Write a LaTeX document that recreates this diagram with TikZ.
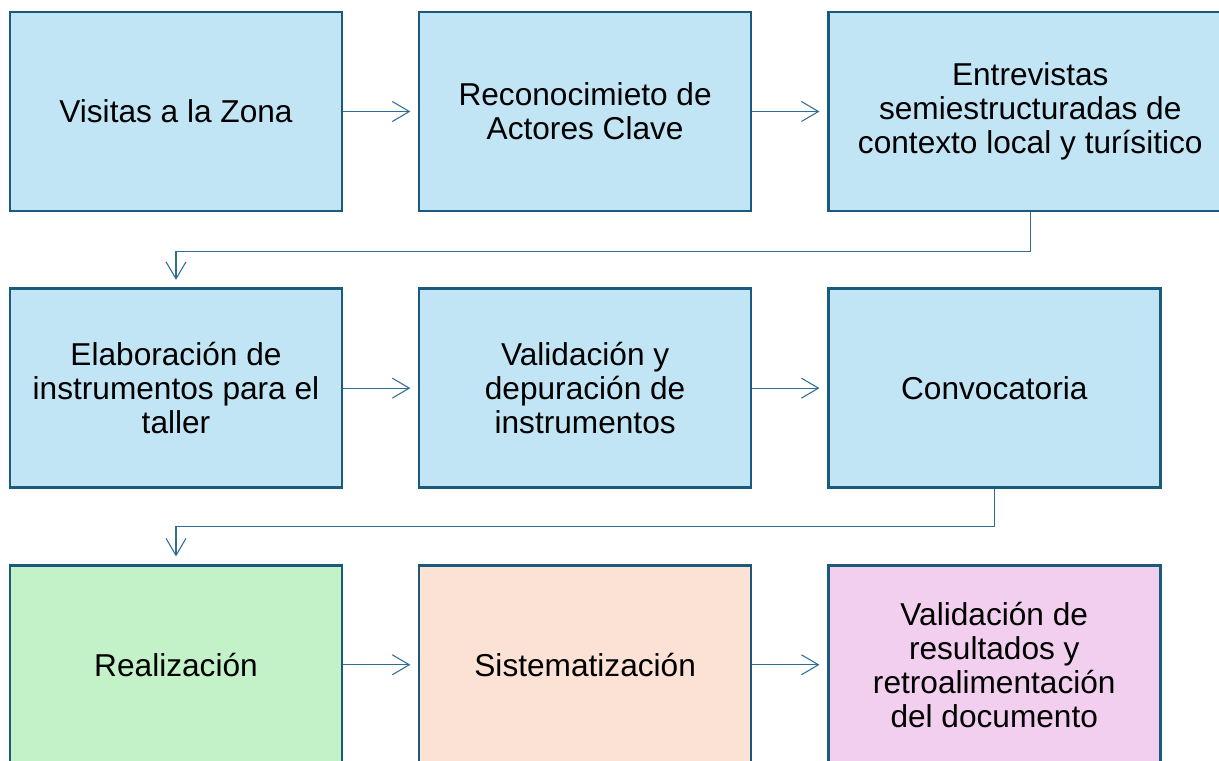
\documentclass[tikz,border=0pt]{standalone}
\usepackage{fontspec}
\setmainfont{Liberation Sans}
\usepackage{tikz}
\usetikzlibrary{positioning}
\usetikzlibrary{arrows.meta}
\definecolor{edgeblue}{HTML}{1B5A7A}
\definecolor{linkblue}{HTML}{2F6E94}
\definecolor{fillblue}{HTML}{C2E5F5}
\definecolor{fillgreen}{HTML}{C3F1C8}
\definecolor{fillpeach}{HTML}{FBE2D5}
\definecolor{fillpink}{HTML}{F2CEEF}
\tikzstyle{box} = [rectangle, draw=edgeblue, line width=1.5pt, fill=fillblue, align=center, minimum width=6.64cm, minimum height=3.98cm, font=\fontsize{18}{19.3}\selectfont]
\tikzstyle{arrow} = [draw=linkblue, line width=0.6pt, -{Straight Barb[length=3.4mm,width=4mm]}, shorten >=0.15cm]

\begin{document}
\begin{tikzpicture}[node distance=1.49cm]
\fill[white] (0,0) rectangle (24.38,-15.2);
\clip (0,0) rectangle (24.38,-15.2);

\node (visitas) [box] at (3.52,-2.23) {Visitas a la Zona};
\node (actores) [box, right=of visitas] {Reconocimieto de\\Actores Clave};
\node (entrevistas) [box, minimum width=8.08cm, right=of actores] {Entrevistas\\semiestructuradas de\\contexto local y turísitico};

\node (elaboracion) [box, below=1.50cm of visitas] {Elaboración de\\instrumentos para el\\taller};
\node (depuracion) [box, right=of elaboracion] {Validación y\\depuración de\\instrumentos};
\node (convocatoria) [box, right=of depuracion] {Convocatoria};

\node (realizacion) [box, fill=fillgreen, below=1.50cm of elaboracion] {Realización};
\node (sistematizacion) [box, fill=fillpeach, right=of realizacion] {Sistematización};
\node (retro) [box, fill=fillpink, right=of sistematizacion] {Validación de\\resultados y\\retroalimentación\\del documento};

\draw [arrow] (visitas) -- (actores);
\draw [arrow] (actores) -- (entrevistas);
\draw [arrow] (entrevistas.south) -- ++(0,-0.78) -| (elaboracion.north);
\draw [arrow] (elaboracion) -- (depuracion);
\draw [arrow] (depuracion) -- (convocatoria);
\draw [arrow] (convocatoria.south) -- ++(0,-0.76) -| (realizacion.north);
\draw [arrow] (realizacion) -- (sistematizacion);
\draw [arrow] (sistematizacion) -- (retro);
\end{tikzpicture}
\end{document}
